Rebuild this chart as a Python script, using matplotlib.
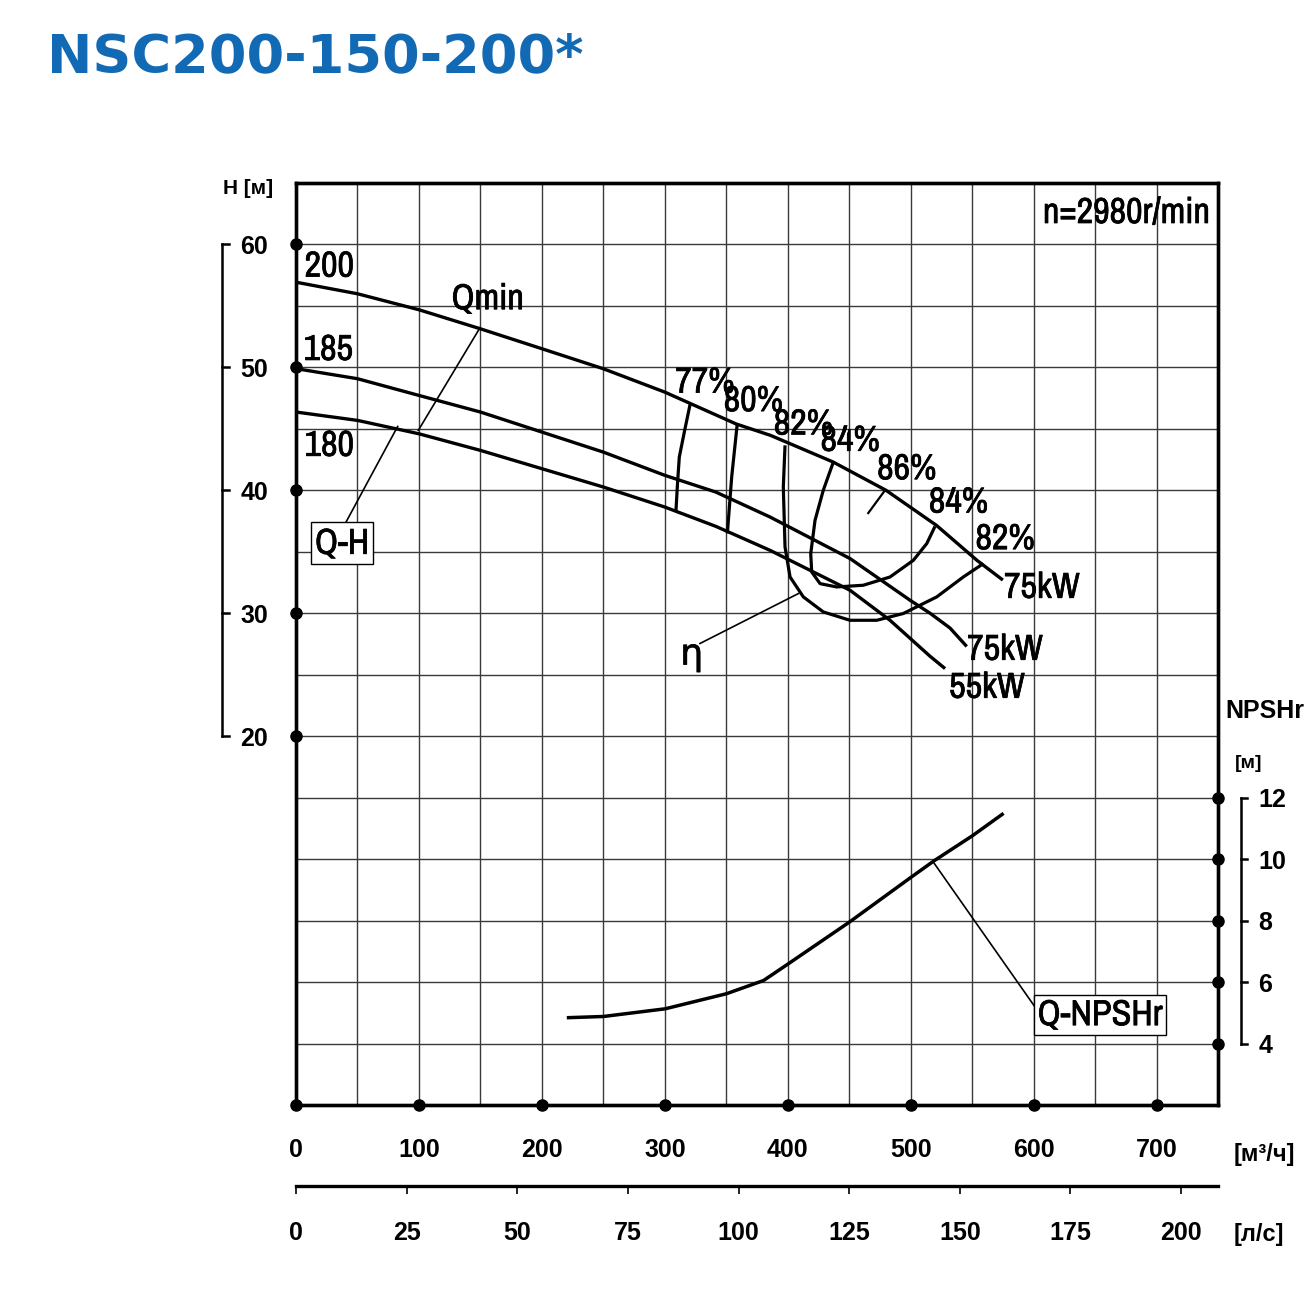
import os
import numpy as np
import matplotlib
matplotlib.use("Agg")
import matplotlib.pyplot as plt
import matplotlib.transforms as mtrans
import matplotlib.font_manager as fm
import matplotlib.patheffects as pe

# ---------------- data ----------------
q_200 = [0, 50, 100, 150, 200, 250, 300, 358, 386, 437, 480, 521, 554, 575]
h_200 = [56.93, 55.99, 54.69, 53.14, 51.52, 49.89, 47.99, 45.4, 44.47, 42.3, 40.0, 37.15, 34.3, 32.7]
q_185 = [0, 50, 100, 150, 200, 250, 300, 341.5, 385.6, 450.7, 499.5, 515.8, 532, 545.6]
h_185 = [49.9, 49.08, 47.72, 46.37, 44.74, 43.11, 41.22, 39.86, 37.83, 34.45, 31.06, 30.0, 28.8, 27.3]
q_180 = [0, 50, 100, 150, 200, 250, 300, 341.5, 385.6, 450.7, 483.2, 515.8, 528]
h_180 = [46.37, 45.69, 44.6, 43.25, 41.76, 40.27, 38.64, 37.07, 35.12, 31.87, 29.43, 26.5, 25.5]

q_eff77 = [320.8, 316.2, 311.8, 310.3, 309.1]
h_eff77 = [47.1, 44.9, 42.71, 40.5, 38.37]
q_eff80 = [359.0, 354.4, 350.9]
h_eff80 = [45.47, 41.08, 36.5]
q_eff82 = [397.8, 396.4, 397.8, 401.9, 412.7, 428.9, 450.6, 472.4, 494.0, 521.2, 542.8, 559.1]
h_eff82 = [43.66, 40.27, 35.39, 32.95, 31.33, 30.11, 29.43, 29.43, 29.98, 31.33, 32.95, 34.04]
q_eff84 = [437.1, 428.9, 422.2, 418.7, 419.5, 426.3, 439.8, 461.5, 483.2, 502.2, 513.1, 519.8]
h_eff84 = [42.30, 40.0, 37.56, 34.85, 33.36, 32.41, 32.14, 32.28, 32.95, 34.31, 35.67, 37.07]
q_eff86 = [479.1, 465.5]
h_eff86 = [40.0, 38.15]

q_npsh = [220.3, 250.1, 300.3, 350.1, 380.3, 400.3, 450.1, 500.3, 519.2, 550.2, 575.6]
npsh = [4.84, 4.88, 5.13, 5.62, 6.05, 6.59, 7.95, 9.41, 9.95, 10.76, 11.49]

q_ticks = list(range(0, 701, 100))
h_ticks = [20, 30, 40, 50, 60]
npsh_ticks = [4, 6, 8, 10, 12]
ls_ticks = list(range(0, 201, 25))

curve_labels = ["200", "185", "180"]
eff_labels = ["77%", "80%", "82%", "84%", "86%", "84%", "82%"]
power_labels = ["75kW", "75kW", "55kW"]

# ---------------- fonts ----------------
narrow_name = None
for f in fm.fontManager.ttflist:
    if os.path.basename(f.fname).lower().startswith("archivonarrow[") and f.style == "normal":
        narrow_name = f.name
        break
BOLDEN = [pe.withStroke(linewidth=0.5, foreground="k")]
if narrow_name:
    COND = dict(family=[narrow_name, "DejaVu Sans"], path_effects=BOLDEN)
else:
    COND = dict(family=["DejaVu Sans"], fontstretch="condensed")
plt.rcParams["font.family"] = ["Liberation Sans", "DejaVu Sans"]

W, H = 1310, 1295
fig = plt.figure(figsize=(W / 100, H / 100), dpi=100)
fig.patch.set_facecolor("white")

L, B, AW, AH = 296 / W, 190 / H, 922 / W, 922 / H
ax = fig.add_axes([L, B, AW, AH])
ax.set_xlim(0, 750)
ax.set_ylim(-10, 65)
ax.set_xticks(q_ticks)
ax.set_xticks(np.arange(0, 751, 50), minor=True)
ax.set_yticks(h_ticks)
ax.set_yticks(np.arange(-10, 66, 5), minor=True)
ax.grid(True, which="both", color="#3a3a3a", lw=1.0)
ax.set_axisbelow(True)
ax.tick_params(which="both", length=0)
ax.tick_params(axis="x", pad=24, labelsize=18)
ax.tick_params(axis="y", pad=20, labelsize=18)
for lab in ax.get_xticklabels() + ax.get_yticklabels():
    lab.set_fontweight("bold")
for s in ax.spines.values():
    s.set_linewidth(2.4)

ax2 = ax.twinx()
ax2.set_ylim(2, 32)
ax2.set_yticks(npsh_ticks)
ax2.tick_params(length=0, pad=29, labelsize=18)
for lab in ax2.get_yticklabels():
    lab.set_fontweight("bold")
for s in ax2.spines.values():
    s.set_linewidth(2.4)

dk = dict(color="k", ms=8, clip_on=False, zorder=6, ls="none", marker="o")
ax.plot([0] * len(h_ticks), h_ticks, **dk)
ax.plot(q_ticks, [-10] * len(q_ticks), **dk)
ax2.plot([750] * len(npsh_ticks), npsh_ticks, **dk)

tl = mtrans.blended_transform_factory(ax.transAxes, ax.transData)
xb, xt = -0.0803, -0.0727
ax.plot([xb, xb], [min(h_ticks), max(h_ticks)], color="k", lw=1.8, transform=tl, clip_on=False)
for v in h_ticks:
    ax.plot([xb, xt], [v, v], color="k", lw=1.8, transform=tl, clip_on=False)
tr = mtrans.blended_transform_factory(ax2.transAxes, ax2.transData)
xb2, xt2 = 1.0249, 1.0317
ax2.plot([xb2, xb2], [min(npsh_ticks), max(npsh_ticks)], color="k", lw=1.8, transform=tr, clip_on=False)
for v in npsh_ticks:
    ax2.plot([xb2, xt2], [v, v], color="k", lw=1.8, transform=tr, clip_on=False)

LW = 2.4
for q, h in [(q_200, h_200), (q_185, h_185), (q_180, h_180)]:
    ax.plot(q, h, color="k", lw=LW, solid_capstyle="butt", solid_joinstyle="round", zorder=4)
for q, h in [(q_eff77, h_eff77), (q_eff80, h_eff80), (q_eff82, h_eff82), (q_eff84, h_eff84)]:
    ax.plot(q, h, color="k", lw=2.3, solid_capstyle="butt", solid_joinstyle="round", zorder=4)
ax.plot(q_eff86, h_eff86, color="k", lw=1.6, zorder=4)
ax2.plot(q_npsh, npsh, color="k", lw=2.5, solid_capstyle="butt", solid_joinstyle="round", zorder=4)

LL = dict(color="k", lw=1.2, zorder=4)
ax.plot([149.7, 99.5], [53.23, 44.88], **LL)
ax.plot([40.7, 82.7], [37.42, 45.2], **LL)
ax.plot([408.6, 328.6], [31.6, 27.54], **LL)
ax2.plot([519.2, 605.0], [9.86, 4.97], **LL)

FS = 26
T = dict(ha="center", va="center", fontsize=FS, zorder=7, **COND)
for lab, (x, y) in zip(curve_labels, [(27.1, 58.24), (26.3, 51.46), (27.1, 43.66)]):
    ax.text(x, y, lab, **T)
ax.text(155.9, 55.59, "Qmin", **T)
ax.text(37.4, 35.69, "Q-H", bbox=dict(boxstyle="square,pad=0.12", fc="white", ec="k", lw=1.0), **T)
eff_pos = [(332.7, 48.8), (372.0, 47.3), (412.7, 45.4), (450.7, 44.07),
           (496.8, 41.76), (538.8, 39.05), (576.8, 36.07)]
for lab, (x, y) in zip(eff_labels, eff_pos):
    ax.text(x, y, lab, **T)
pow_pos = [(606.8, 32.11), (576.8, 27.07), (562.1, 23.98)]
for lab, (x, y) in zip(power_labels, pow_pos):
    ax.text(x, y, lab, **T)
ax.text(321.9, 26.6, "η", **T)
ax.text(743.5, 62.6, "n=2980r/min", ha="right", va="center", fontsize=FS, zorder=7, **COND)
ax2.text(654.0, 4.94, "Q-NPSHr", bbox=dict(boxstyle="square,pad=0.1", fc="white", ec="k", lw=1.0), **T)

ax3 = fig.add_axes([L, 109 / H, AW, 0.0001])
ax3.set_xlim(0, 750 / 3.6)
ax3.set_xticks(ls_ticks)
ax3.set_yticks([])
ax3.patch.set_visible(False)
for k in ["left", "right", "top"]:
    ax3.spines[k].set_visible(False)
ax3.spines["bottom"].set_linewidth(2.4)
ax3.tick_params(axis="x", direction="out", length=6, width=1.2, pad=19, labelsize=18)
for lab in ax3.get_xticklabels():
    lab.set_fontweight("bold")

def ftext(x, y, s, **kw):
    fig.text(x / W, 1 - y / H, s, **kw)

ftext(47, 57, "NSC200-150-200*", ha="left", va="center", color="#136ab4",
      fontsize=39, fontweight="bold", family=["DejaVu Sans"])
ftext(248, 188, "H [м]", ha="center", va="center", fontsize=15, fontweight="bold")
ftext(1265, 711, "NPSHr", ha="center", va="center", fontsize=18, fontweight="bold")
ftext(1249, 763, "[м]", ha="center", va="center", fontsize=14, fontweight="bold")
ftext(1264, 1155, "[м³/ч]", ha="center", va="center", fontsize=17, fontweight="bold")
ftext(1259, 1235, "[л/с]", ha="center", va="center", fontsize=17, fontweight="bold")

fig.savefig("out.png", dpi=100, facecolor="white")
